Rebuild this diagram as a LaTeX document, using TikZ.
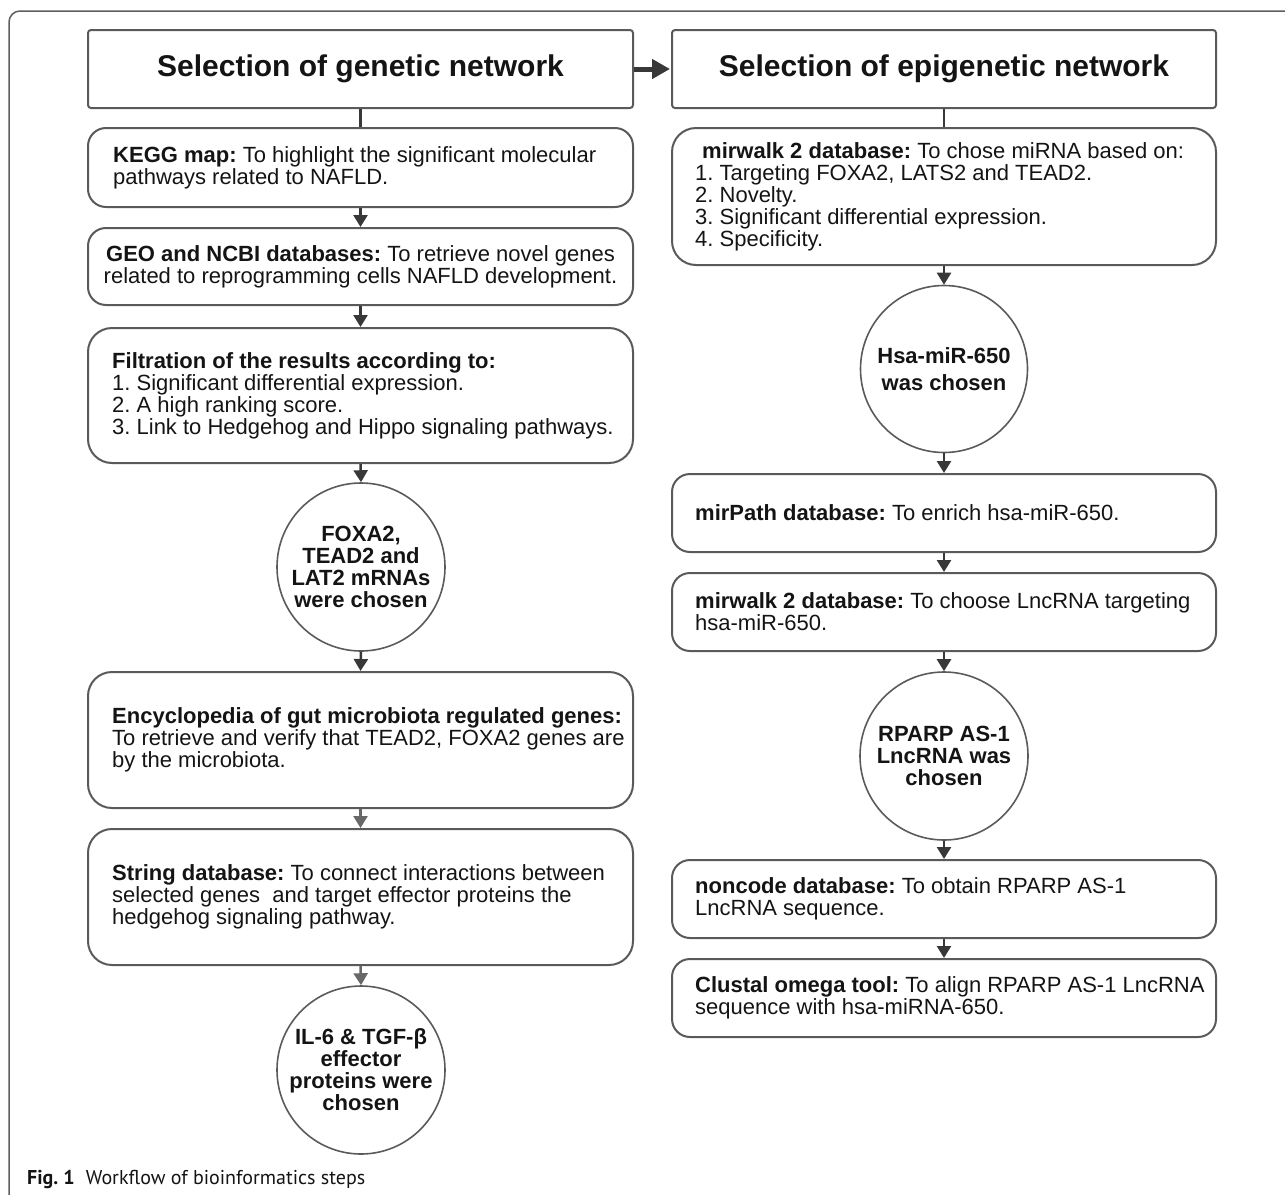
\documentclass[tikz,border=0pt]{standalone}
\usepackage{fontspec}
\setmainfont{Liberation Sans}
\newfontfamily\capfont{PT Sans}
\usetikzlibrary{arrows.meta}
\definecolor{boxline}{HTML}{5A5A5A}
\definecolor{arrowc}{HTML}{383838}
\definecolor{arrowl}{HTML}{686868}
\definecolor{framec}{HTML}{5E5E5E}
\definecolor{txt}{HTML}{141414}
\frenchspacing
\begin{document}
\begin{tikzpicture}[x=1pt,y=-1pt,
  hdr/.style={draw=boxline, line width=2pt, rounded corners=3pt, minimum width=545pt, minimum height=78pt, inner sep=0pt, font=\fontsize{30}{33}\selectfont\bfseries, text=txt},
  rbox/.style={draw=boxline, line width=2pt, rounded corners=#1, inner sep=0pt, minimum width=545pt},
  rbox/.default=18pt,
  circ/.style={draw=boxline, line width=1.6pt, circle, inner sep=0pt, minimum size=#1},
  circ/.default=168pt,
  btext/.style={align=left, inner sep=0pt, anchor=west, text=txt, font=\fontsize{22}{22}\selectfont},
  ctext/.style={align=center, inner sep=0pt, text=txt, font=\fontsize{22}{22}\selectfont\bfseries},
  arr/.style={draw=arrowc, line width=2.5pt, -{Triangle[length=12pt,width=14pt]}},
  arrl/.style={draw=arrowl, line width=2.5pt, -{Triangle[length=12pt,width=14pt]}},
  link/.style={draw=arrowc, line width=2.5pt},
  bigarr/.style={draw=arrowc, line width=5pt, -{Triangle[length=18pt,width=19pt]}}
]
\useasboundingbox (0,0) rectangle (1285,1194);
% outer frame
\draw[framec, line width=1.5pt, rounded corners=11pt] (1286,11) -- (9,11) -- (9,1195);

% left column
\node[hdr] (lh) at (360.5,69) {Selection of genetic network};
\node[rbox, minimum height=79pt] (kegg) at (360.5,167.5) {};
\node[btext] (keggt) at ([xshift=26pt]kegg.west) {\textbf{KEGG map:} To highlight the significant molecular\\pathways related to NAFLD.};
\node[rbox, minimum height=77pt] (geo) at (360.5,266.5) {};
\node[btext, anchor=center, align=center] (geot) at (geo.center) {\textbf{GEO and NCBI databases:} To retrieve novel genes\\related to reprogramming cells NAFLD development.};
\node[rbox=24pt, minimum height=135pt] (filt) at (360.5,395.5) {};
\node[btext] (filtt) at ([xshift=25pt]filt.west) {\textbf{Filtration of the results according to:}\\1. Significant differential expression.\\2. A high ranking score.\\3. Link to Hedgehog and Hippo signaling pathways.};
\node[circ] (c1) at (361,567) {};
\node[ctext] (c1t) at (c1.center) {FOXA2,\\TEAD2 and\\LAT2 mRNAs\\were chosen};
\node[rbox=24pt, minimum height=136pt] (ency) at (360.5,740) {};
\node[btext] (encyt) at ([xshift=25pt]ency.west) {\textbf{Encyclopedia of gut microbiota regulated genes:}\\To retrieve and verify that TEAD2, FOXA2 genes are\\by the microbiota.};
\node[rbox=24pt, minimum height=136pt] (str) at (360.5,897) {};
\node[btext] (strt) at ([xshift=25pt]str.west) {\textbf{String database:} To connect interactions between\\selected genes\ \ and target effector proteins the\\hedgehog signaling pathway.};
\node[circ] (c3) at (361,1070) {};
\node[ctext] (c3t) at (c3.center) {IL-6 \& TGF-β\\effector\\proteins were\\chosen};

% right column
\node[hdr, minimum width=544pt] (rh) at (944,69) {Selection of epigenetic network};
\node[rbox=24pt, minimum width=544pt, minimum height=137pt] (mw) at (944,196.5) {};
\node[btext] (mwt) at ([xshift=24pt]mw.west) {\hspace*{7pt}\textbf{mirwalk 2 database:} To chose miRNA based on:\\1. Targeting FOXA2, LATS2 and TEAD2.\\2. Novelty.\\3. Significant differential expression.\\4. Specificity.};
\node[circ=167pt] (c2) at (944,369) {};
\node[ctext, font=\fontsize{22}{27}\selectfont\bfseries] (c2t) at (c2.center) {Hsa-miR-650\\was chosen};
\node[rbox, minimum width=544pt, minimum height=78pt] (mp) at (944,513) {};
\node[btext] (mpt) at ([xshift=24pt]mp.west) {\textbf{mirPath database:} To enrich hsa-miR-650.};
\node[rbox, minimum width=544pt, minimum height=78pt] (mw2) at (944,612) {};
\node[btext] (mw2t) at ([xshift=24pt]mw2.west) {\textbf{mirwalk 2 database:} To choose LncRNA targeting\\hsa-miR-650.};
\node[circ] (c4) at (944,756) {};
\node[ctext] (c4t) at (c4.center) {RPARP AS-1\\LncRNA was\\chosen};
\node[rbox, minimum width=544pt, minimum height=78pt] (nc) at (944,899) {};
\node[btext] (nct) at ([xshift=24pt]nc.west) {\textbf{noncode database:} To obtain RPARP AS-1\\LncRNA sequence.};
\node[rbox, minimum width=544pt, minimum height=78pt] (cl) at (944,998) {};
\node[btext] (clt) at ([xshift=24pt]cl.west) {\textbf{Clustal omega tool:} To align RPARP AS-1 LncRNA\\sequence with hsa-miRNA-650.};

% connectors
\draw[bigarr] (lh.east) -- ([xshift=-1pt]rh.west);
\draw[link] (lh.south) -- (kegg.north);
\draw[arr] (kegg.south) -- (geo.north);
\draw[arr] (geo.south) -- (filt.north);
\draw[arr] (filt.south) -- (c1.north);
\draw[arr] (c1.south) -- (ency.north);
\draw[arrl] (ency.south) -- (str.north);
\draw[arrl] (str.south) -- (c3.north);
\draw[link] (rh.south) -- (mw.north);
\draw[arr] (mw.south) -- (c2.north);
\draw[arr] (c2.south) -- (mp.north);
\draw[arr] (mp.south) -- (mw2.north);
\draw[arr] (mw2.south) -- (c4.north);
\draw[arr] (c4.south) -- (nc.north);
\draw[arr] (nc.south) -- (cl.north);

% caption
\node[anchor=base west, inner sep=0pt, text=txt, font=\capfont\fontsize{20}{24}\selectfont] (cap) at (27,1184) {\textbf{Fig. 1}\hspace{0.55em}Workflow of bioinformatics steps};
\end{tikzpicture}
\end{document}
